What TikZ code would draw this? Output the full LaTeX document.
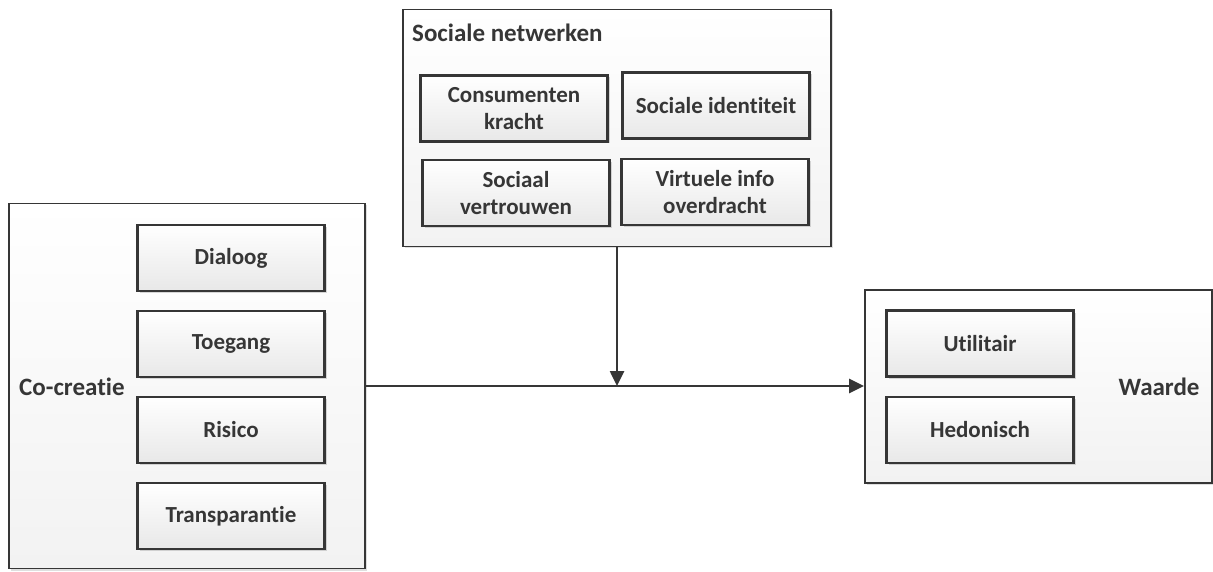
\documentclass[tikz,border=0pt]{standalone}
\usepackage{fontspec}
\setmainfont[Ligatures=NoCommon]{Carlito}
\usepackage{xcolor}
\usetikzlibrary{arrows.meta,shadows}
\definecolor{boxline}{HTML}{363636}
\definecolor{boxlow}{HTML}{E8E8E8}
\definecolor{framelow}{HTML}{F2F2F2}

\begin{document}
\begin{tikzpicture}[
  x=1pt,
  y=-1pt,
  every node/.style={font=\fontsize{25}{27.5}\selectfont\bfseries, boxline},
  frame/.style={draw=boxline, line width=1.8pt, top color=white,
                bottom color=framelow, inner sep=0pt,
                drop shadow={shadow xshift=2pt, shadow yshift=-2pt,
                             opacity=0.25, fill=gray}},
  item/.style={draw=boxline, line width=2.4pt, top color=white,
               bottom color=boxlow, inner sep=0pt, align=center,
               font=\fontsize{23}{26.5}\selectfont\bfseries,
               minimum width=187pt, minimum height=66pt,
               drop shadow={shadow xshift=2pt, shadow yshift=-2pt,
                            opacity=0.3, fill=gray}},
  link/.style={boxline, line width=2.6pt, -{Triangle[length=15pt, width=14pt]}}
]
  \useasboundingbox (0,0) rectangle (1213,572);

  % ---- the three frames ---------------------------------------------------
  \node[frame, minimum width=428pt, minimum height=237pt] (netwerk)
    at (617,128) {};
  \node[frame, minimum width=356pt, minimum height=365pt] (cocreatie)
    at (187,386) {};
  \node[frame, minimum width=347pt, minimum height=193pt] (waarde)
    at (1038.5,386.5) {};

  % ---- frame titles --------------------------------------------------------
  \node[anchor=west, inner sep=0pt] (netwerktitel) at (412,33)
    {Sociale netwerken};
  \node[anchor=west, inner sep=0pt] (cocreatietitel) at (19,387)
    {Co-creatie};
  \node[inner sep=0pt] (waardetitel) at (1159,387) {Waarde};

  % ---- sociale netwerken ---------------------------------------------------
  \node[item] (consument) at (514,108.5) {Consumenten\\kracht};
  \node[item] (identiteit) at (716,105.5) {Sociale identiteit};
  \node[item] (vertrouwen) at (516,193) {Sociaal\\vertrouwen};
  \node[item] (overdracht) at (715,192) {Virtuele info\\overdracht};

  % ---- co-creatie ----------------------------------------------------------
  \foreach \n/\t/\y in {dialoog/Dialoog/258, toegang/Toegang/344,
                        risico/Risico/430, transparantie/Transparantie/516}
    \node[item] (\n) at (231,\y) {\t};

  % ---- waarde --------------------------------------------------------------
  \node[item] (utilitair) at (980,343.5) {Utilitair};
  \node[item] (hedonisch) at (980,430) {Hedonisch};

  % ---- connectors ----------------------------------------------------------
  \coordinate (samen) at (netwerk.south |- cocreatie.east);
  \draw[link] (cocreatie.east) -- (cocreatie.east -| waarde.west);
  \draw[link] (netwerk.south) -- (samen);
\end{tikzpicture}
\end{document}
